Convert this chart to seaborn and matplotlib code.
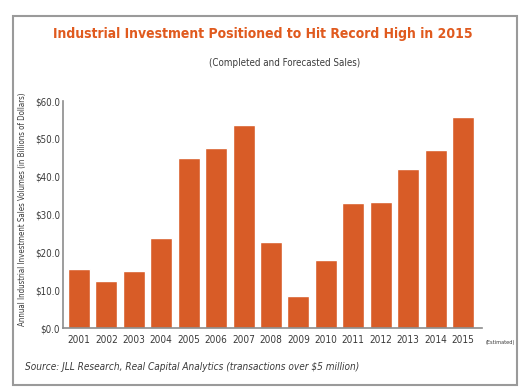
import matplotlib
matplotlib.use("Agg")
import matplotlib.pyplot as plt
from matplotlib.patches import Rectangle
import seaborn as sns
import pandas as pd

years = ["2001", "2002", "2003", "2004", "2005", "2006", "2007", "2008",
         "2009", "2010", "2011", "2012", "2013", "2014", "2015"]
volumes = [15.6, 12.4, 15.0, 23.8, 45.0, 47.5, 53.8, 22.8,
           8.5, 18.0, 33.0, 33.3, 42.0, 47.0, 55.8]
y_ticks = [0, 10, 20, 30, 40, 50, 60]

orange = "#D85C27"
gray_text = "#3a3a3a"

sns.set_theme(style="white")
plt.rcParams["font.family"] = ["DejaVu Sans"]
plt.rcParams["font.stretch"] = "condensed"

df = pd.DataFrame({"year": years, "volume": volumes})

fig = plt.figure(figsize=(5.25, 3.92), dpi=100)
ax = fig.add_axes([0.12, 0.163, 0.798, 0.579])

sns.barplot(data=df, x="year", y="volume", color=orange, saturation=1,
            width=0.8, ax=ax)

ax.set_ylim(0, 60)
ax.set_xlim(-0.58, 14.69)
ax.set_yticks(y_ticks)
ax.set_yticklabels([f"${v:.1f}" for v in y_ticks], fontsize=7, color=gray_text)
ax.tick_params(axis="x", labelsize=7.2, colors=gray_text, length=0, pad=5)
ax.tick_params(axis="y", length=0, pad=2)
ax.set_xlabel("")
ax.set_ylabel("")
for side in ["top", "right"]:
    ax.spines[side].set_visible(False)
for side in ["left", "bottom"]:
    ax.spines[side].set_color("#8c8c8c")
    ax.spines[side].set_linewidth(1.2)

# frame round the whole graphic
fig.patches.append(Rectangle((0.025, 0.018), 0.96, 0.941, transform=fig.transFigure,
                             fill=False, edgecolor="#9a9a9a", linewidth=1.5))

fig.text(0.5, 0.913, "Industrial Investment Positioned to Hit Record High in 2015",
         ha="center", va="center", fontsize=10, fontweight="bold", color="#E05A1E")
fig.text(0.543, 0.839, "(Completed and Forecasted Sales)", ha="center",
         va="center", fontsize=7, color=gray_text)
fig.text(0.042, 0.465, "Annual Industrial Investment Sales Volumes (in Billions of Dollars)",
         rotation=90, ha="center", va="center", fontsize=5.7, color=gray_text)
fig.text(0.925, 0.127, "(Estimated)", ha="left", va="center", fontsize=4.1,
         color=gray_text)
fig.text(0.047, 0.064, "Source: JLL Research, Real Capital Analytics (transactions over $5 million)",
         ha="left", va="center", fontsize=7.2, style="italic", color=gray_text)

fig.savefig("out.png", dpi=100)
